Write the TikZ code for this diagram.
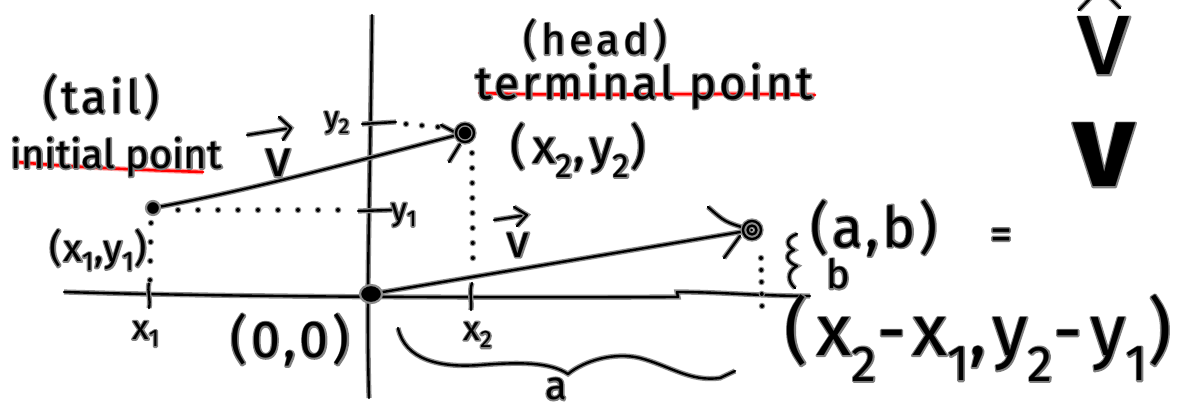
\documentclass[tikz,border=0pt]{standalone}
\usepackage{fontspec}
\setmainfont{Fira Sans}
\newcommand\fs[1]{\fontsize{#1}{#1}\selectfont}
\newcommand\hw[1]{\leavevmode\rlap{\special{pdf:literal 1 Tr 3.0 w 0.5 G 1 j 1 J}#1\special{pdf:literal 0 Tr 0 G}}#1}
\newcommand\ls[1]{\addfontfeatures{LetterSpace=#1}}
\tikzset{
  ink/.style={line width=2.4pt, draw=black, line cap=round, line join=round,
    preaction={draw=black!45, line width=5.2pt}},
  redink/.style={line width=2.6pt, draw=red, line cap=round,
    preaction={draw=red!35, line width=5pt}},
  dots/.style={line width=4pt, draw=black, line cap=round, dash pattern=on 0pt off #1,
    preaction={draw=black!45, line width=6.5pt, line cap=round, dash pattern=on 0pt off #1}},
  dots/.default=20pt,
  lbl/.style={inner sep=0pt, outer sep=0pt, text=black},
  blob/.style={fill=black, draw=black!45, line width=2.2pt}
}
\begin{document}
\begin{tikzpicture}[x=1pt,y=-1pt]
\useasboundingbox[fill=white] (0,0) rectangle (1186,408);

% key points
\coordinate (O) at (371,294);
\coordinate (T) at (153,208);
\coordinate (H) at (465,133);
\coordinate (W) at (752,230);

% red underlines
\draw[redink] (17,162) .. controls (80,168) and (150,170) .. (203,172);
\draw[redink] (479,93) .. controls (600,97) and (700,92) .. (815,95);

% axes
\draw[ink] (64,292) .. controls (200,296) and (400,298) .. (678,297) -- (677,292) .. controls (720,292) and (760,296) .. (810,296);
\draw[ink] (372,15) .. controls (370,200) and (366,300) .. (369,398);

% ticks
\draw[ink] (149,283) .. controls (147,292) and (151,300) .. (149,308);
\draw[ink] (472,283) .. controls (469,292) and (472,300) .. (471,310);
\draw[ink] (362,124) -- (396,122);
\draw[ink] (358,211) -- (392,210);

% dotted guides
\draw[dots=20pt] (178,210) -- (356,210);
\draw[dots=19pt] (151,223) -- (150,280);
\draw[dots=16pt] (406,124) -- (438,127);
\draw[dots=15pt] (472,153) -- (473,270);
\draw[dots=12pt] (761,258) -- (762,306);

% vectors
\draw[ink] (T) .. controls (250,190) and (330,168) .. (H);
\draw[ink] (441,125) -- (462,136);
\draw[ink] (449,162) -- (460,144);
\draw[ink] (O) -- (W);
\draw[ink] (708,207) .. controls (725,222) .. (748,229);
\draw[ink] (724,258) -- (740,236);

% points
\draw[blob] (T) circle (7);
\draw[blob] (H) circle (8);
\draw[ink] (H) circle (9);
\draw[blob] (O) ellipse (11 and 9);
\draw[ink] (W) circle (9);
\draw[ink] (W) circle (4.5);

% arrows over v
\draw[ink] (247,135) -- (291,128);
\draw[ink] (279,117) -- (291,128) -- (283,140);
\draw[ink] (494,220) -- (527,215);
\draw[ink] (514,207) -- (527,215) -- (517,226);

% brace for a
\draw[ink] (398,328) .. controls (405,360) and (440,368) .. (480,365) .. controls (520,362) and (550,362) .. (568,374) .. controls (585,360) and (615,352) .. (640,358) .. controls (670,366) and (690,382) .. (720,378) -- (735,371);
% brace for b
\draw[ink] (797,234) .. controls (785,238) and (786,246) .. (794,250) .. controls (784,254) and (786,262) .. (797,266) .. controls (786,272) and (788,282) .. (795,288);
% hat
\draw[ink] (1079,10) -- (1100,-12) -- (1120,8);

% labels
\node[lbl, font=\fs{46}\ls{8}] (tail) at (101,97) {\hw{(tail)}};
\node[lbl, font=\fs{40}] (init) at (116,157) {\hw{initial point}};
\node[lbl, font=\fs{42}\ls{10}] (head) at (595,40) {\hw{(head)}};
\node[lbl, font=\fs{46}\ls{7}] (term) at (644,86) {\hw{terminal point}};
\node[lbl, font=\fs{48}\ls{14}] (P2) at (578,150) {\hw{(x\textsubscript{2},y\textsubscript{2})}};
\node[lbl, font=\fs{38}\ls{5}] (P1) at (98,250) {\hw{(x\textsubscript{1},y\textsubscript{1})}};
\node[lbl, font=\fs{34}] (x1) at (146,334) {\hw{x\textsubscript{1}}};
\node[lbl, font=\fs{34}] (x2) at (478,335) {\hw{x\textsubscript{2}}};
\node[lbl, font=\fs{30}] (y2) at (337,123) {\hw{y\textsubscript{2}}};
\node[lbl, font=\fs{32}] (y1) at (404,215) {\hw{y\textsubscript{1}}};
\node[lbl, font=\fs{52}\ls{8}] (orig) at (290,340) {\hw{(0,0)}};
\node[lbl, font=\fs{52}] (v1) at (278,163) {\hw{v}};
\node[lbl, font=\fs{46}] (v2) at (518,245) {\hw{v}};
\node[lbl, font=\fs{56}\ls{6}] (ab) at (874,228) {\hw{(a,b)}};
\node[lbl, font=\fs{44}] (eq) at (1001,239) {\hw{=}};
\node[lbl, font=\fs{40}] (b) at (838,274) {\hw{b}};
\node[lbl, font=\fs{40}, anchor=south] (a) at (556,400) {\hw{a}};
\node[lbl, font=\fs{72}\ls{12}] (comp) at (978,338) {\hw{(x\textsubscript{2}-x\textsubscript{1},y\textsubscript{2}-y\textsubscript{1})}};
\node[lbl, font=\fs{110}] (vhat) at (1104,46) {\hw{v}};
\node[lbl, font=\fs{120}\bfseries] (vbold) at (1104,155) {\hw{v}};
\end{tikzpicture}
\end{document}
